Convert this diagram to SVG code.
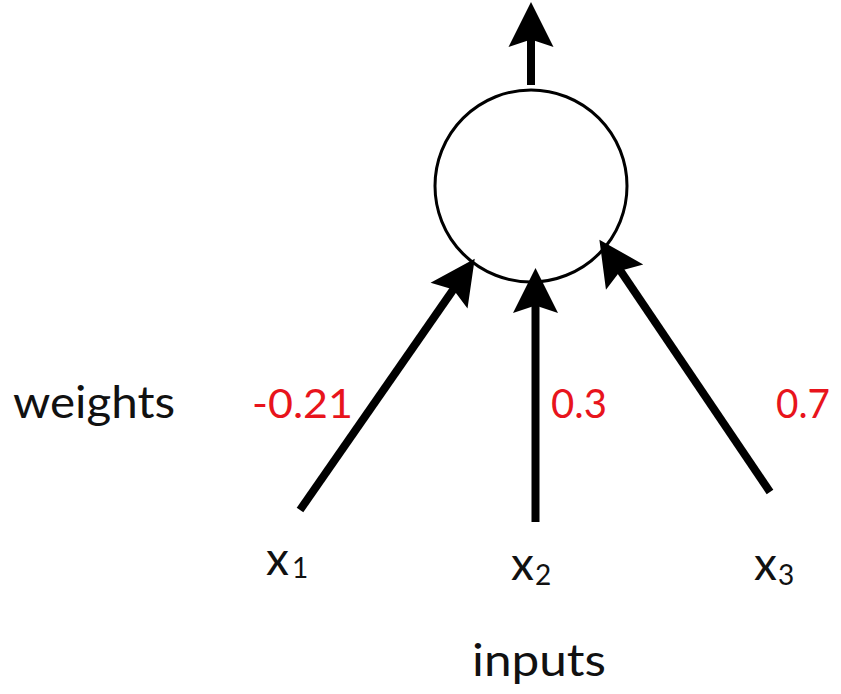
<svg xmlns="http://www.w3.org/2000/svg" width="841" height="694" viewBox="0 0 841 694">
<defs>
<style>
.lbl{font-family:Lato,"Open Sans","Liberation Sans",sans-serif;font-size:44px;fill:#111}
.x{font-family:Lato,"Open Sans","Liberation Sans",sans-serif;font-size:46px;fill:#111}
.w{font-family:Lato,"Open Sans","Liberation Sans",sans-serif;font-size:40px;fill:#e8141c}
.sub{font-size:28px}
.edge{stroke:#000;stroke-width:8;fill:none}
</style>
<marker id="ah" markerUnits="userSpaceOnUse" orient="auto" refX="0" refY="0" markerWidth="60" markerHeight="60" viewBox="-15 -20 40 40">
<path d="M20,0 L-10,-15 L-5,0 L-10,15 Z" fill="#000"/>
</marker>
</defs>
<rect width="841" height="694" fill="#fff"/>
<g id="connectors">
<line class="edge" x1="531" y1="85" x2="531" y2="32" marker-end="url(#ah)"/>
<line class="edge" x1="300" y1="510" x2="457.6" y2="283.4" marker-end="url(#ah)"/>
<line class="edge" x1="535.5" y1="522" x2="535.5" y2="298" marker-end="url(#ah)"/>
<line class="edge" x1="770" y1="492" x2="616.2" y2="264.6" marker-end="url(#ah)"/>
</g>
<g id="neuron">
<circle cx="531" cy="186" r="96" fill="none" stroke="#000" stroke-width="3"/>
</g>
<g id="weights-label"><text class="lbl" x="13" y="418" textLength="162" lengthAdjust="spacingAndGlyphs">weights</text></g>
<g id="w1"><text class="w" x="252" y="418" textLength="101" lengthAdjust="spacingAndGlyphs">-0.21</text></g>
<g id="w2"><text class="w" x="551" y="418" textLength="56" lengthAdjust="spacingAndGlyphs">0.3</text></g>
<g id="w3"><text class="w" x="776" y="418" textLength="54" lengthAdjust="spacingAndGlyphs">0.7</text></g>
<g id="x1"><text class="x" x="266" y="575">x<tspan class="sub" dx="3" dy="3">1</tspan></text></g>
<g id="x2"><text class="x" x="511" y="580">x<tspan class="sub" dx="1" dy="5">2</tspan></text></g>
<g id="x3"><text class="x" x="754" y="580">x<tspan class="sub" dx="1" dy="5">3</tspan></text></g>
<g id="inputs-label"><text class="lbl" x="472" y="676" textLength="134" lengthAdjust="spacingAndGlyphs">inputs</text></g>
</svg>
